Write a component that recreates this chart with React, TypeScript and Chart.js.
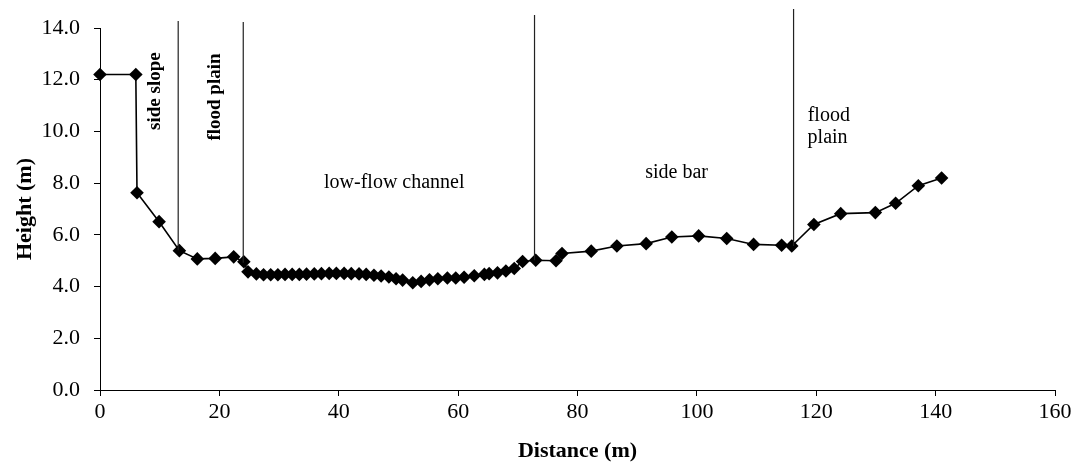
import React, { useEffect, useRef } from "react";
import { Chart, registerables } from "chart.js";

Chart.register(...registerables);

const distance = [
  0, 6.0, 6.2, 9.9, 13.3, 16.3, 19.3, 22.4, 24.1, 24.8, 26.2, 27.4, 28.6, 29.8, 31.0, 32.2, 33.4,
  34.6, 35.9, 37.1, 38.4, 39.6, 40.9, 42.1, 43.4, 44.6, 45.9, 47.1, 48.4, 49.6, 50.7, 52.4, 53.8,
  55.2, 56.6, 58.2, 59.6, 61.0, 62.7, 64.4, 65.2, 66.6, 68.0, 69.4, 70.8, 73.0, 76.4, 77.4, 82.3,
  86.6, 91.5, 95.8, 100.3, 105.0, 109.5, 114.2, 115.9, 119.6, 124.1, 129.9, 133.3, 137.1, 141.0,
];
const height = [
  12.2, 12.2, 7.63, 6.51, 5.39, 5.07, 5.09, 5.15, 4.96, 4.57, 4.49, 4.46, 4.46, 4.46, 4.47, 4.47,
  4.47, 4.48, 4.49, 4.5, 4.51, 4.51, 4.51, 4.5, 4.49, 4.47, 4.44, 4.41, 4.37, 4.3, 4.25, 4.15, 4.2,
  4.26, 4.3, 4.33, 4.33, 4.36, 4.42, 4.47, 4.5, 4.53, 4.6, 4.7, 4.97, 5.02, 5.0, 5.28, 5.37, 5.57,
  5.66, 5.92, 5.96, 5.86, 5.63, 5.6, 5.57, 6.4, 6.82, 6.86, 7.22, 7.9, 8.2,
];

// zone boundary lines: x, top height, bottom height
const boundaryX = [13.1, 24.0, 72.8, 116.2];
const boundaryTop = [14.27, 14.23, 14.5, 14.73];
const boundaryBottom = [5.4, 4.92, 5.02, 5.57];

// zone labels
const zoneText = ["side slope", "flood plain", "low-flow channel", "side bar", "flood", "plain"];
const zoneX = [9.2, 19.2, 49.3, 96.6, 122.1, 121.9];
const zoneY = [11.56, 11.33, 8.0, 8.39, 10.6, 9.74];
const zoneRotated = [true, true, false, false, false, false];

const xTicks = [0, 20, 40, 60, 80, 100, 120, 140, 160];
const yTicks = [0, 2, 4, 6, 8, 10, 12, 14];

const FONT = "'Liberation Serif', 'Times New Roman', serif";

const labelPlugin = {
  id: "zoneLabels",
  afterDatasetsDraw(chart: any) {
    const { ctx, scales } = chart;
    ctx.save();
    ctx.fillStyle = "#000";
    ctx.textAlign = "center";
    ctx.textBaseline = "middle";
    zoneText.forEach((t, i) => {
      const px = scales.x.getPixelForValue(zoneX[i]);
      const py = scales.y.getPixelForValue(zoneY[i]);
      ctx.save();
      ctx.translate(px, py);
      if (zoneRotated[i]) {
        ctx.rotate(-Math.PI / 2);
        ctx.font = `bold 19px ${FONT}`;
      } else {
        ctx.font = `20px ${FONT}`;
      }
      ctx.fillText(t, 0, 0);
      ctx.restore();
    });
    ctx.restore();
  },
};

export default function App() {
  const ref = useRef<HTMLCanvasElement>(null);
  useEffect(() => {
    if (!ref.current) return;
    const profile = distance.map((d, i) => ({ x: d, y: height[i] }));
    const lineSets = boundaryX.map((bx, i) => ({
      data: [
        { x: bx, y: boundaryTop[i] },
        { x: bx, y: boundaryBottom[i] },
      ],
      showLine: true,
      borderColor: "#222",
      borderWidth: 1.2,
      pointRadius: 0,
      clip: false as any,
    }));
    const chart = new Chart(ref.current, {
      type: "scatter",
      data: {
        datasets: [
          ...lineSets,
          {
            data: profile,
            showLine: true,
            borderColor: "#000",
            borderWidth: 1.6,
            pointStyle: "rectRot",
            pointRadius: 6.8,
            pointBackgroundColor: "#000",
            pointBorderColor: "#000",
            pointBorderWidth: 0,
            clip: false as any,
          },
        ],
      },
      plugins: [labelPlugin],
      options: {
        animation: false,
        responsive: true,
        maintainAspectRatio: false,
        events: [],
        layout: { padding: { top: 20, right: 16, left: 0, bottom: 0 } },
        plugins: { legend: { display: false }, tooltip: { enabled: false } },
        scales: {
          x: {
            type: "linear",
            min: 0,
            max: 160,
            afterBuildTicks: (s: any) => {
              s.ticks = xTicks.map((v) => ({ value: v }));
            },
            afterFit: (s: any) => {
              s.height = 73;
              s.paddingLeft = 0;
              s.paddingRight = 0;
            },
            ticks: {
              color: "#000",
              font: { family: FONT, size: 22 },
              padding: 3,
              callback: (v: any) => String(v),
            },
            grid: {
              drawOnChartArea: false,
              drawTicks: true,
              tickLength: 6,
              color: "#000",
            },
            border: { display: true, color: "#000", width: 1 },
            title: {
              display: true,
              text: "Distance (m)",
              color: "#000",
              font: { family: FONT, size: 22, weight: "bold", lineHeight: 1 },
              padding: { top: 0, bottom: 1 },
            },
          },
          y: {
            type: "linear",
            min: 0,
            max: 14,
            afterBuildTicks: (s: any) => {
              s.ticks = yTicks.map((v) => ({ value: v }));
            },
            afterFit: (s: any) => {
              s.width = 92;
              s.paddingTop = 0;
              s.paddingBottom = 0;
            },
            ticks: {
              color: "#000",
              font: { family: FONT, size: 22 },
              padding: 14,
              callback: (v: any) => Number(v).toFixed(1),
            },
            grid: {
              drawOnChartArea: false,
              drawTicks: true,
              tickLength: 6,
              color: "#000",
            },
            border: { display: true, color: "#000", width: 1 },
            title: {
              display: true,
              text: "Height (m)",
              color: "#000",
              font: { family: FONT, size: 22, weight: "bold", lineHeight: 1 },
              padding: { top: 6, bottom: 0 },
            },
          },
        },
      },
    });
    return () => chart.destroy();
  }, []);
  return (
    <div style={{ width: 1063, height: 455, position: "relative" }}>
      <canvas ref={ref} />
    </div>
  );
}
